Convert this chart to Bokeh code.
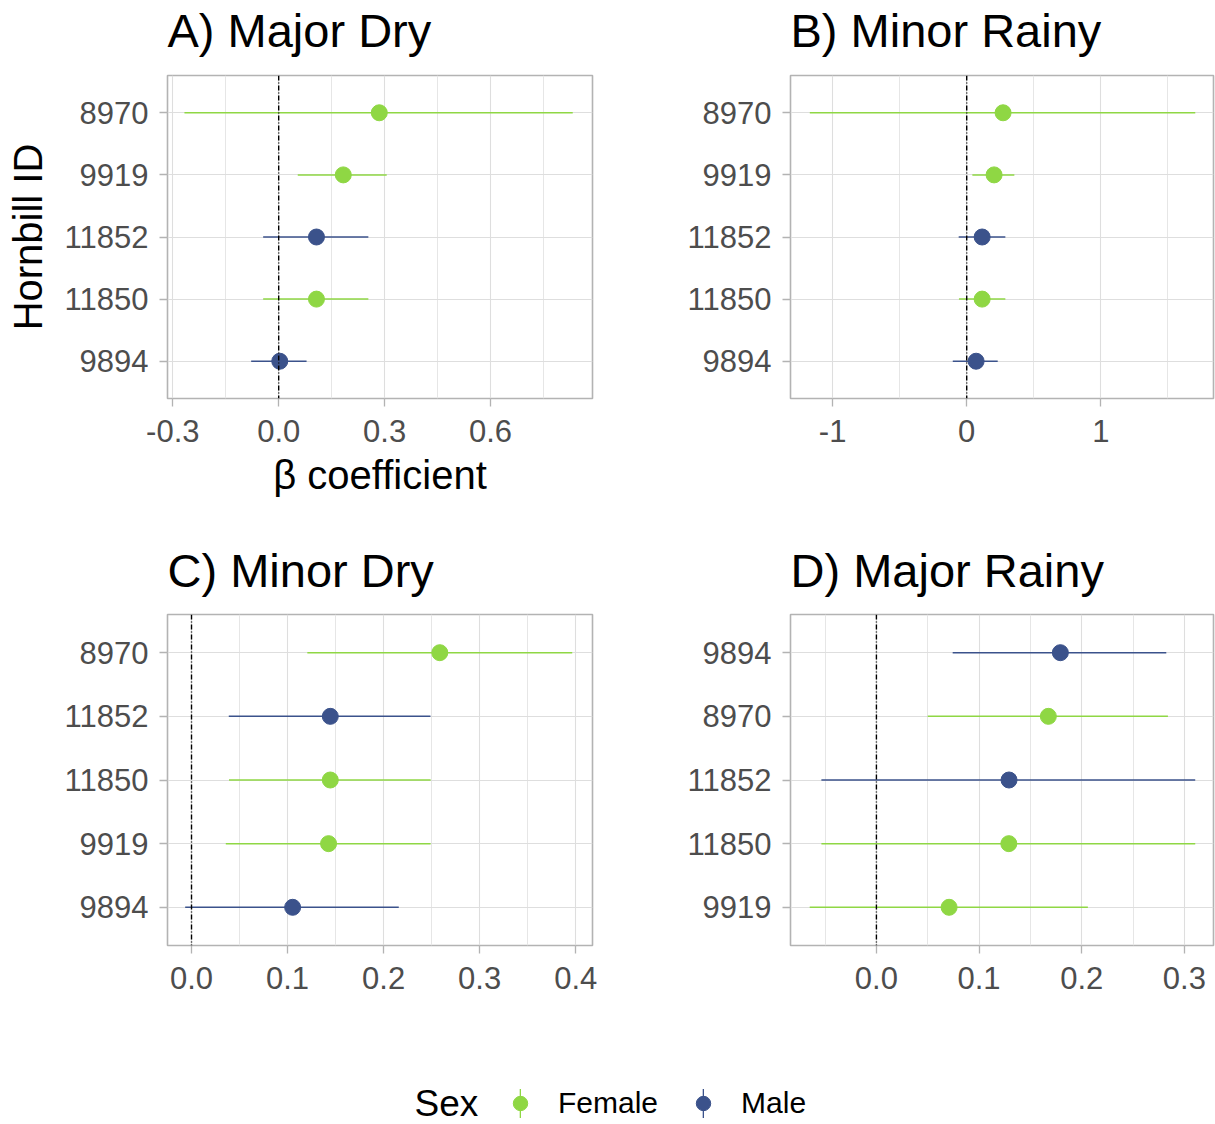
from bokeh.plotting import figure
from bokeh.models import (FactorRange, Range1d, FixedTicker, Span, Legend, LegendItem,
                          Label, ColumnDataSource, NumeralTickFormatter)
from bokeh.transform import factor_cmap
from bokeh.layouts import column, row
from bokeh.embed import file_html
from bokeh.resources import INLINE

GREEN = "#8FD744"
BLUE = "#3B528B"
FONT = "Liberation Sans"
SEXES = ["Female", "Male"]

# ---------------- data (rows listed top -> bottom) ----------------
# A) Major Dry
a_ids = ["8970", "9919", "11852", "11850", "9894"]
a_sex = ["Female", "Female", "Male", "Female", "Male"]
a_est = [0.285, 0.183, 0.107, 0.107, 0.003]
a_lo = [-0.267, 0.054, -0.044, -0.044, -0.078]
a_hi = [0.833, 0.306, 0.254, 0.254, 0.079]
a_ticks = [-0.3, 0.0, 0.3, 0.6]
a_minor = [-0.15, 0.15, 0.45, 0.75]

# B) Minor Rainy
b_ids = ["8970", "9919", "11852", "11850", "9894"]
b_sex = ["Female", "Female", "Male", "Female", "Male"]
b_est = [0.271, 0.204, 0.115, 0.115, 0.070]
b_lo = [-1.17, 0.042, -0.060, -0.058, -0.104]
b_hi = [1.704, 0.355, 0.288, 0.288, 0.231]
b_ticks = [-1, 0, 1]
b_minor = [-0.5, 0.5, 1.5]

# C) Minor Dry
c_ids = ["8970", "11852", "11850", "9919", "9894"]
c_sex = ["Female", "Male", "Female", "Female", "Male"]
c_est = [0.2585, 0.1445, 0.1445, 0.1427, 0.1053]
c_lo = [0.1206, 0.0388, 0.0390, 0.0357, -0.0066]
c_hi = [0.3964, 0.2488, 0.2490, 0.2490, 0.2158]
c_ticks = [0.0, 0.1, 0.2, 0.3, 0.4]
c_minor = [0.05, 0.15, 0.25, 0.35]

# D) Major Rainy
d_ids = ["9894", "8970", "11852", "11850", "9919"]
d_sex = ["Male", "Female", "Male", "Female", "Female"]
d_est = [0.1792, 0.1675, 0.1292, 0.1290, 0.0708]
d_lo = [0.0743, 0.0500, -0.0536, -0.0536, -0.0650]
d_hi = [0.2824, 0.2840, 0.3106, 0.3106, 0.2060]
d_ticks = [0.0, 0.1, 0.2, 0.3]
d_minor = [-0.05, 0.05, 0.15, 0.25]

SHIFT = 18  # figures are pulled up by this much so titles can sit higher


def panel(title, ids, sex, est, lo, hi, xr, ticks, minor, fmt,
          width, height, bl, br, bt, bb, standoff, xlabel=None, ylabel=None):
    p = figure(width=width, height=height + SHIFT,
               x_range=Range1d(*xr),
               y_range=FactorRange(factors=list(reversed(ids)), range_padding=0.1,
                                   range_padding_units="absolute"),
               output_backend="svg", toolbar_location=None,
               min_border_left=bl, min_border_right=br,
               min_border_top=bt + SHIFT, min_border_bottom=bb,
               margin=(-SHIFT, 0, 0, 0))
    src = ColumnDataSource(dict(id=ids, sex=sex, est=est, lo=lo, hi=hi))
    cmap = factor_cmap("sex", palette=[GREEN, BLUE], factors=SEXES)
    p.segment(x0="lo", y0="id", x1="hi", y1="id", line_color=cmap, line_width=1.5, source=src)
    p.scatter(x="est", y="id", marker="circle", size=16, fill_color=cmap, line_color=cmap,
              source=src)
    p.add_layout(Span(location=0, dimension="height", line_color="black", line_width=1.4,
                      line_dash="5 2 1 2"))

    p.title.text = title
    p.title.text_font = FONT
    p.title.text_font_size = "47px"
    p.title.text_font_style = "normal"
    p.title.text_color = "black"
    p.title.align = "left"
    p.title.standoff = standoff

    p.xaxis.ticker = FixedTicker(ticks=ticks, minor_ticks=minor)
    p.xaxis.formatter = NumeralTickFormatter(format=fmt)
    for ax in (p.xaxis[0], p.yaxis[0]):
        ax.axis_line_color = None
        ax.major_tick_line_color = "#B3B3B3"
        ax.major_tick_line_width = 1.3
        ax.major_tick_out = 8
        ax.major_tick_in = 0
        ax.minor_tick_line_color = None
        ax.major_label_text_font = FONT
        ax.major_label_text_font_size = "31px"
        ax.major_label_text_color = "#4D4D4D"
        ax.axis_label_text_font = FONT
        ax.axis_label_text_font_size = "40px"
        ax.axis_label_text_font_style = "normal"
        ax.axis_label_text_color = "black"
    p.xaxis.major_label_standoff = 13
    p.yaxis.major_label_standoff = 11
    if xlabel:
        p.xaxis.axis_label = xlabel
        p.xaxis.axis_label_standoff = 8
    if ylabel:
        p.yaxis.axis_label = ylabel
        p.yaxis.axis_label_standoff = 12

    p.xgrid.grid_line_color = "#DEDEDE"
    p.xgrid.grid_line_width = 1.1
    p.xgrid.minor_grid_line_color = "#E6E6E6"
    p.xgrid.minor_grid_line_width = 1.0
    p.ygrid.grid_line_color = "#DEDEDE"
    p.ygrid.grid_line_width = 1.1
    p.outline_line_color = "#B3B3B3"
    p.outline_line_width = 1.6
    p.background_fill_color = "white"
    p.border_fill_color = "white"
    return p


pA = panel("A) Major Dry", a_ids, a_sex, a_est, a_lo, a_hi, (-0.315, 0.889), a_ticks, a_minor,
           "0.0", 600, 540, 167, 8, 75, 142, 38, xlabel="β coefficient", ylabel="Hornbill ID")
pB = panel("B) Minor Rainy", b_ids, b_sex, b_est, b_lo, b_hi, (-1.314, 1.84), b_ticks, b_minor,
           "0", 615, 540, 190, 2, 75, 142, 38)
pC = panel("C) Minor Dry", c_ids, c_sex, c_est, c_lo, c_hi, (-0.025, 0.4175), c_ticks, c_minor,
           "0.0", 600, 540, 167, 8, 74, 135, 36)
pD = panel("D) Major Rainy", d_ids, d_sex, d_est, d_lo, d_hi, (-0.0837, 0.3284), d_ticks, d_minor,
           "0.0", 615, 540, 190, 2, 74, 135, 36)

# ---------------- legend strip ----------------
pL = figure(width=1215, height=44, x_range=Range1d(0, 1215), y_range=Range1d(0, 44),
            output_backend="svg", toolbar_location=None,
            x_axis_location=None, y_axis_location=None,
            min_border=0, outline_line_color=None)
pL.grid.visible = False
NAN = float("nan")
line_items, point_items = [], []
for s, col in zip(SEXES, [GREEN, BLUE]):
    r_line = pL.quad(left=[NAN], right=[NAN], bottom=[NAN], top=[NAN],
                     fill_color=col, line_color=None)
    r_pt = pL.scatter(x=[NAN], y=[NAN], marker="circle", fill_color=col, line_color=col)
    line_items.append(LegendItem(label=s, renderers=[r_line]))
    point_items.append(LegendItem(label=s, renderers=[r_pt]))

common = dict(orientation="horizontal", glyph_height=36, label_height=36, padding=0, margin=0,
              border_line_color=None, background_fill_alpha=0,
              label_text_font=FONT, label_text_font_size="30px")
# vertical key strokes (thin glyph box centred on the dot)
leg_lines = Legend(items=line_items, location=(519, 3), glyph_width=2, label_standoff=37,
                   spacing=44, label_text_alpha=0, **common)
# dots + labels
leg_pts = Legend(items=point_items, location=(502, 3), glyph_width=36, label_standoff=20,
                 spacing=27, label_text_color="black", **common)
pL.add_layout(leg_lines)
pL.add_layout(leg_pts)
pL.add_layout(Label(x=414, y=21, text="Sex", text_font=FONT, text_font_size="37px",
                    text_baseline="middle", text_color="black"))

layout = column(row(pA, pB), row(pC, pD), pL)
open("out.html", "w").write(file_html(layout, INLINE))
